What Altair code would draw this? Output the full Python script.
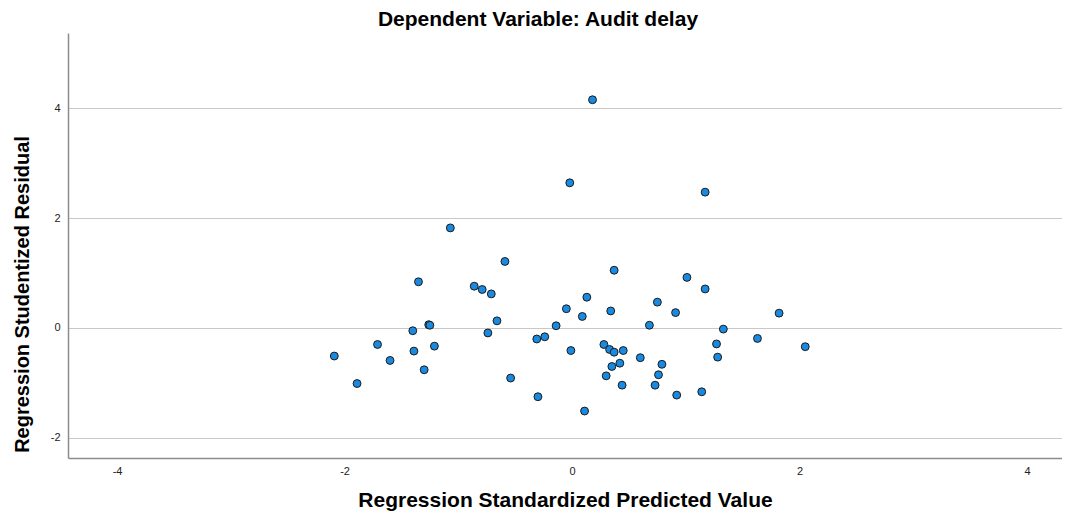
import altair as alt
import pandas as pd

pred = [-2.09, -1.89, -1.71, -1.60, -1.40, -1.35, -1.39, -1.26, -1.25, -1.21,
        -1.30, -0.86, -0.79, -0.71, -0.59, -0.66, -0.74, -0.54, -0.31, -0.24,
        -0.14, -0.05, 0.13, 0.09, -0.01, -0.30, 0.11, 0.28, 0.37, 1.01,
        1.17, 0.75, 0.34, 0.91, 1.82, 0.68, 1.33, 0.33, 0.37, 0.45,
        1.27, 1.63, 2.05, 0.60, 1.28, 0.42, 0.35, 0.79, 0.76, 0.30,
        0.44, 0.73, 0.92, 1.14, 0.18, -0.02, 1.17, -1.07]
resid = [-0.51, -1.01, -0.30, -0.59, -0.05, 0.84, -0.42, 0.06, 0.05, -0.33,
         -0.76, 0.76, 0.70, 0.62, 1.21, 0.13, -0.09, -0.91, -0.20, -0.16,
         0.04, 0.35, 0.56, 0.21, -0.41, -1.25, -1.51, -0.30, 1.05, 0.92,
         0.71, 0.47, 0.31, 0.28, 0.27, 0.05, -0.02, -0.39, -0.44, -0.41,
         -0.29, -0.19, -0.34, -0.54, -0.53, -0.64, -0.70, -0.66, -0.85, -0.87,
         -1.04, -1.04, -1.22, -1.16, 4.15, 2.64, 2.47, 1.82]

x_ticks = [-4, -2, 0, 2, 4]
y_ticks = [-2, 0, 2, 4]

df = pd.DataFrame({"pred": pred, "resid": resid})

font = "Liberation Sans"

chart = alt.Chart(df).mark_point(
    shape="circle", filled=True, fill="#1a8ae0", stroke="#1b1b1b",
    strokeWidth=1, size=62, opacity=1
).encode(
    x=alt.X("pred:Q",
            scale=alt.Scale(domain=[-4.431, 4.307], nice=False, zero=False),
            axis=alt.Axis(values=x_ticks, grid=False, ticks=False,
                          labelExpr="toString(datum.value)",
                          title="Regression Standardized Predicted Value",
                          titleFontSize=21, titleFontWeight="bold",
                          titleColor="#000000", titleFont=font,
                          titlePadding=13, labelFont=font, labelFontSize=11,
                          labelColor="#222222", labelPadding=7,
                          domainColor="#8c8c8c", domainWidth=1.5)),
    y=alt.Y("resid:Q",
            scale=alt.Scale(domain=[-2.364, 5.364], nice=False, zero=False),
            axis=alt.Axis(values=y_ticks, grid=True, gridColor="#c8c8c8",
                          gridWidth=1.2, ticks=False,
                          labelExpr="toString(datum.value)",
                          title="Regression Studentized Residual",
                          titleFontSize=20, titleFontWeight="bold",
                          titleColor="#000000", titleFont=font,
                          titlePadding=18, titleY=261, titleAlign="center",
                          labelFont=font, labelFontSize=11,
                          labelColor="#222222", labelPadding=8,
                          domainColor="#8c8c8c", domainWidth=1.5)),
).properties(
    width=994, height=425,
    title=alt.TitleParams("Dependent Variable: Audit delay", fontSize=21,
                          fontWeight="bold", font=font, color="#000000",
                          anchor="middle", offset=3, dx=-27),
    autosize=alt.AutoSizeParams(type="none"),
    padding={"left": 60, "top": 25, "right": 0, "bottom": 54},
).configure_view(stroke=None)

chart.save("out.html", embed_options={"renderer": "svg", "actions": False})
